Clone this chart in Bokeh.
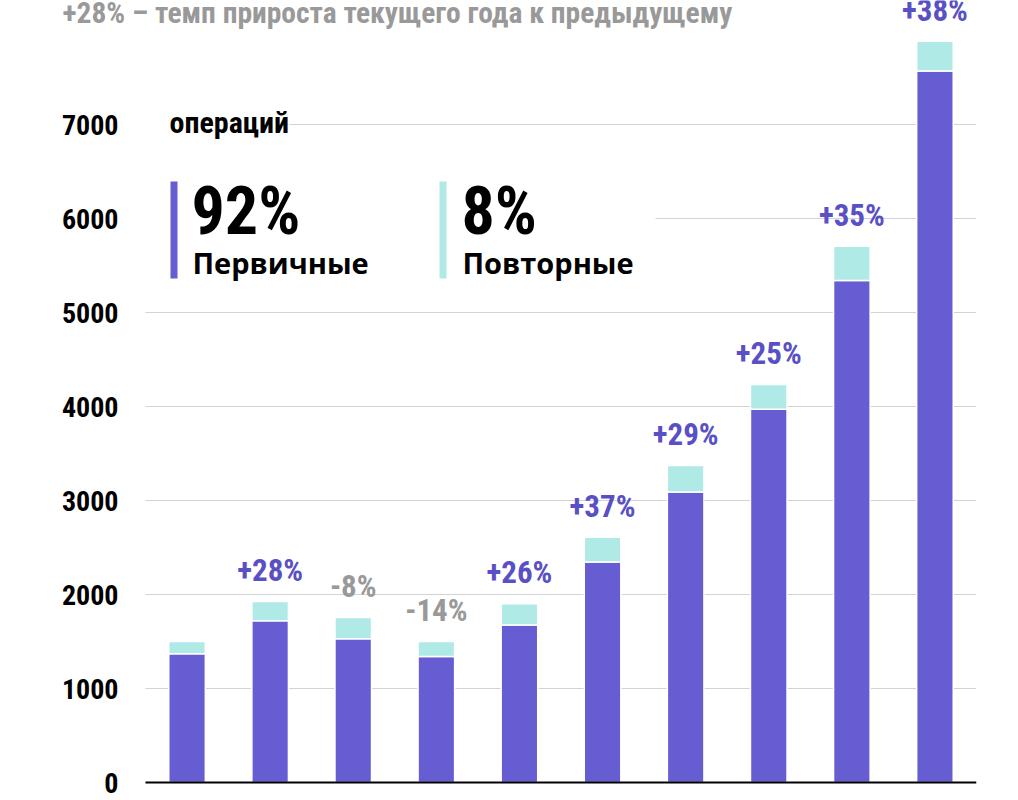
from bokeh.plotting import figure
from bokeh.models import Label, Range1d, FixedTicker, BoxAnnotation, ColumnDataSource
from bokeh.core.properties import value
from bokeh.embed import file_html
from bokeh.resources import INLINE

# ---- data ----
bar_index = list(range(10))
primary = [1370, 1720, 1530, 1340, 1675, 2345, 3090, 3970, 5340, 7570]
repeat = [130, 206, 225, 160, 226, 265, 282, 264, 365, 316]
growth = ["", "+28%", "-8%", "-14%", "+26%", "+37%", "+29%", "+25%", "+35%", "+38%"]
y_ticks = [0, 1000, 2000, 3000, 4000, 5000, 6000, 7000]
title_text = "+28% – темп прироста текущего года к предыдущему"
unit_text = "операций"
share_primary = "92%"
share_repeat = "8%"
name_primary = "Первичные"
name_repeat = "Повторные"

# ---- styles ----
C_PRIM = "#675DD3"
C_REP = "#B0EAE7"
C_POS = "#5A50C6"
C_NEG = "#999999"
COND = "Roboto Condensed"

total = [a + b for a, b in zip(primary, repeat)]
xs = [i + 0.5 for i in bar_index]
lab_colors = [C_NEG if g.startswith("-") else C_POS for g in growth]

# layout geometry (page px -> data)
FRAME_L, BASE_Y, PX_X, PX_Y = 145.0, 782.0, 83.1, 0.094
def dx(px):
    return (px - FRAME_L) / PX_X
def dy(py):
    return (BASE_Y - py) / PX_Y

p = figure(width=1010, height=798, output_backend="svg", toolbar_location=None,
           x_range=Range1d(dx(0), dx(976)), y_range=Range1d(dy(798), dy(0)),
           x_axis_location=None, min_border_left=0, min_border_right=34,
           min_border_top=0, min_border_bottom=0)
p.outline_line_color = None
p.background_fill_color = "white"
p.border_fill_color = "white"

ax = p.yaxis[0]
ax.fixed_location = 0
ax.ticker = FixedTicker(ticks=y_ticks)
ax.axis_line_color = None
ax.major_tick_line_color = None
ax.minor_tick_line_color = None
ax.major_tick_out = 0
ax.major_tick_in = 0
ax.major_label_standoff = 27
ax.major_label_text_font = COND
ax.major_label_text_font_style = "bold"
ax.major_label_text_font_size = "28px"
ax.major_label_text_color = "black"

p.ygrid.ticker = FixedTicker(ticks=y_ticks)
p.ygrid.grid_line_color = "#d3d3d3"
p.ygrid.grid_line_width = 1.2
p.xgrid.grid_line_color = None

# white panels (level underlay) hiding gridlines left of the axis and behind the legend block
for l, r, t, b in [(None, dx(145), None, None),
                   (dx(145), dx(289), dy(112), dy(140)),
                   (dx(145), dx(655), dy(170), dy(292))]:
    p.add_layout(BoxAnnotation(left=l, right=r, top=t, bottom=b, level="underlay",
                               fill_color="white", fill_alpha=1, line_color=None))

src = ColumnDataSource(dict(x=xs, prim=primary, tot=total, lab=growth, lc=lab_colors))
p.vbar(x="x", width=0.44, bottom=0, top="prim", source=src,
       fill_color=C_PRIM, line_color="white", line_width=1.5)
p.vbar(x="x", width=0.44, bottom="prim", top="tot", source=src,
       fill_color=C_REP, line_color="white", line_width=1.5)

p.text(x="x", y="tot", text="lab", source=src, text_color="lc",
       text_font=value(COND), text_font_style="bold", text_font_size="31px",
       text_align="center", text_baseline="middle", y_offset=-31)

# baseline along the category domain
p.segment(x0=[bar_index[0]], y0=[0], x1=[bar_index[-1] + 1], y1=[0],
          line_color="black", line_width=2)

# colour stripes
p.add_layout(BoxAnnotation(left=dx(170), right=dx(177), top=dy(181), bottom=dy(278),
                           fill_color=C_PRIM, fill_alpha=1, line_color=None))
p.add_layout(BoxAnnotation(left=dx(439), right=dx(446), top=dy(181), bottom=dy(278),
                           fill_color=C_REP, fill_alpha=1, line_color=None))

def lab(x, y, text, font, size, color="black"):
    p.add_layout(Label(x=x, y=y, text=text, text_font=font, text_font_style="bold",
                       text_font_size=size, text_color=color, text_baseline="middle",
                       text_align="left"))

lab(dx(62), dy(12), title_text, COND, "29.5px", C_NEG)
lab(dx(169), dy(122), unit_text, COND, "30px")
lab(dx(191), dy(211), share_primary, COND, "66px")
lab(dx(461), dy(211), share_repeat, COND, "66px")
lab(dx(192), dy(262), name_primary, "Open Sans", "29px")
lab(dx(462), dy(262), name_repeat, "Open Sans", "29px")

open("out.html", "w").write(file_html(p, INLINE))
